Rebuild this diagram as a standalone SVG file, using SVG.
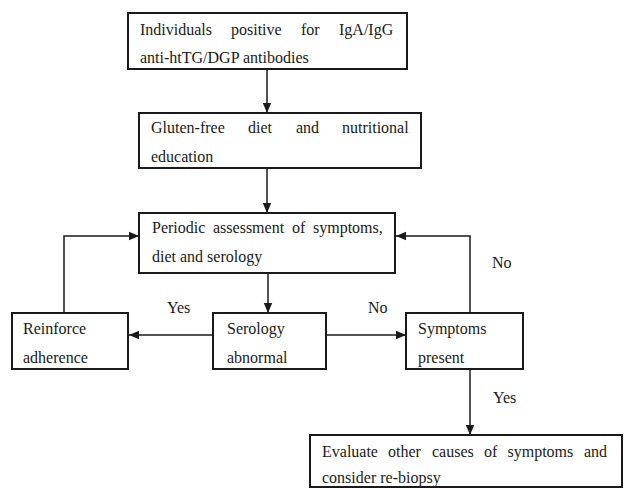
<svg xmlns="http://www.w3.org/2000/svg" width="625" height="488" viewBox="0 0 625 488">
<style>
.box{fill:#fff;stroke:#1a1a1a;stroke-width:2}
text{font-family:"Liberation Serif","Times New Roman",serif;font-size:16px;fill:#1a1a1a}
.con{fill:none;stroke:#1a1a1a;stroke-width:1.5}
</style>
<defs>
<marker id="ah" markerUnits="userSpaceOnUse" markerWidth="10" markerHeight="10" viewBox="0 0 10 10" refX="10" refY="5" orient="auto">
<path d="M0,0.8 L10,5 L0,9.2 Z" fill="#1a1a1a"/>
</marker>
</defs>
<rect width="625" height="488" fill="#fff"/>
<g id="connectors">
<path class="con" d="M267,69 V113" marker-end="url(#ah)"/>
<path class="con" d="M267,168 V213" marker-end="url(#ah)"/>
<path class="con" d="M268,273 V313" marker-end="url(#ah)"/>
<path class="con" d="M213,335 H129" marker-end="url(#ah)"/>
<path class="con" d="M326,335 H406" marker-end="url(#ah)"/>
<path class="con" d="M64,313 V236 H139" marker-end="url(#ah)"/>
<path class="con" d="M470,313 V236 H396" marker-end="url(#ah)"/>
<path class="con" d="M470,369 V435" marker-end="url(#ah)"/>
<text x="167" y="313">Yes</text>
<text x="368" y="313">No</text>
<text x="492" y="268">No</text>
<text x="493" y="403">Yes</text>
</g>
<g id="n1">
<rect class="box" x="128" y="13" width="279" height="56"/>
<text y="35"><tspan x="140">Individuals</tspan><tspan x="231">positive</tspan><tspan x="301">for</tspan><tspan x="339">IgA/IgG</tspan></text>
<text x="140" y="63">anti-htTG/DGP antibodies</text>
</g>
<g id="n2">
<rect class="box" x="139" y="113" width="282" height="55"/>
<text y="133"><tspan x="151">Gluten-free</tspan><tspan x="248">diet</tspan><tspan x="296">and</tspan><tspan x="342">nutritional</tspan></text>
<text x="151" y="162">education</text>
</g>
<g id="n3">
<rect class="box" x="139" y="213" width="256" height="60"/>
<text y="233"><tspan x="152">Periodic</tspan><tspan x="213">assessment</tspan><tspan x="292">of</tspan><tspan x="313">symptoms,</tspan></text>
<text x="152" y="262">diet and serology</text>
</g>
<g id="n4">
<rect class="box" x="12" y="313" width="116" height="56"/>
<text x="23" y="334">Reinforce</text>
<text x="23" y="363">adherence</text>
</g>
<g id="n5">
<rect class="box" x="213" y="313" width="113" height="56"/>
<text x="227" y="334">Serology</text>
<text x="227" y="363">abnormal</text>
</g>
<g id="n6">
<rect class="box" x="406" y="313" width="117" height="56"/>
<text x="418" y="334">Symptoms</text>
<text x="418" y="363">present</text>
</g>
<g id="n7">
<rect class="box" x="310" y="435" width="312" height="52"/>
<text y="457"><tspan x="322">Evaluate</tspan><tspan x="388">other</tspan><tspan x="432">causes</tspan><tspan x="484">of</tspan><tspan x="507.5">symptoms</tspan><tspan x="584">and</tspan></text>
<text x="322" y="483">consider re-biopsy</text>
</g>
</svg>
